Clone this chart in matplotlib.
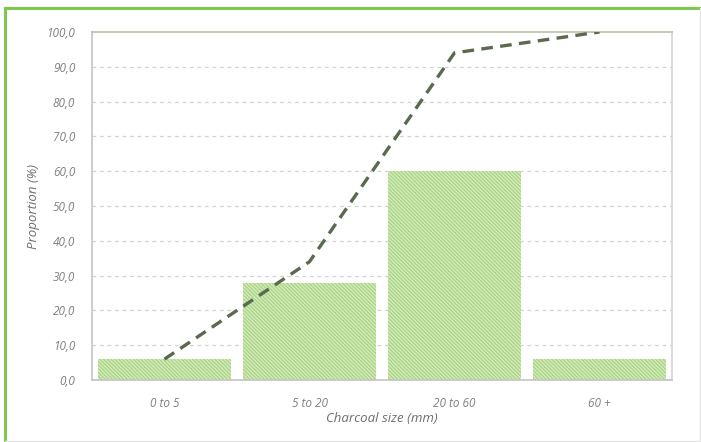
import matplotlib
matplotlib.use("Agg")
import matplotlib.pyplot as plt
from matplotlib.lines import Line2D
import numpy as np

categories = ["0 to 5", "5 to 20", "20 to 60", "60 +"]
proportion = [6.0, 28.0, 60.0, 6.0]
cumulative = [6.0, 34.0, 94.0, 100.0]
yticks = [0, 10, 20, 30, 40, 50, 60, 70, 80, 90, 100]

plt.rcParams['hatch.linewidth'] = 0.8
plt.rcParams['font.family'] = ['Open Sans', 'DejaVu Sans']

fig = plt.figure(figsize=(7.01, 4.42), dpi=100)
W, H = 701, 442
ax = fig.add_axes([92 / W, 1 - 380 / H, (672 - 92) / W, (380 - 32) / H])

x = np.arange(len(categories))
ax.bar(x, proportion, width=0.92, color='#d2ebb6', edgecolor='#a6d184',
       hatch='\\' * 9, linewidth=0, zorder=2)
ax.plot(x, cumulative, linestyle=(0, (3.5, 2.2)), color='#5b6a4e',
        linewidth=2.4, zorder=3)

ax.set_xlim(-0.5, len(categories) - 0.5)
ax.set_ylim(0, 100)
ax.set_yticks(yticks)
ax.set_yticklabels([f"{v:.1f}".replace('.', ',') for v in yticks])
ax.set_xticks(x)
ax.set_xticklabels(categories)

for v in yticks[1:-1]:
    ax.axhline(v, color='#d2d2d2', linestyle=(0, (3, 3)), linewidth=0.9, zorder=1)

for lab in ax.get_yticklabels() + ax.get_xticklabels():
    lab.set_fontstyle('italic')
    lab.set_color('#808080')
    lab.set_fontsize(8.5)

ax.tick_params(axis='both', length=0)
ax.tick_params(axis='y', pad=12)
ax.tick_params(axis='x', pad=12)

ax.spines['left'].set_color('#c4c4c4')
ax.spines['bottom'].set_color('#c4c4c4')
ax.spines['right'].set_color('#d4d4d4')
ax.spines['top'].set_color('#b9c4a4')
for s in ax.spines.values():
    s.set_linewidth(1.2)

ax.set_ylabel("Proportion (%)", fontstyle='italic', color='#6e6e6e', fontsize=9.5, labelpad=5)
ax.set_xlabel("Charcoal size (mm)", fontstyle='italic', color='#6e6e6e', fontsize=9.5, labelpad=2)

# outer chart border
fig.add_artist(Line2D([5 / W, 5 / W], [0, 1 - 8 / H], color='#7dc94e', linewidth=2.2, transform=fig.transFigure))
fig.add_artist(Line2D([5 / W, 1], [1 - 8 / H, 1 - 8 / H], color='#7dc94e', linewidth=2.2, transform=fig.transFigure))
fig.add_artist(Line2D([699.5 / W, 699.5 / W], [0, 1 - 8 / H], color='#e4e4e4', linewidth=1, transform=fig.transFigure))
fig.add_artist(Line2D([5 / W, 1], [1.5 / H, 1.5 / H], color='#e4e4e4', linewidth=1, transform=fig.transFigure))

fig.savefig("out.png", dpi=100)
